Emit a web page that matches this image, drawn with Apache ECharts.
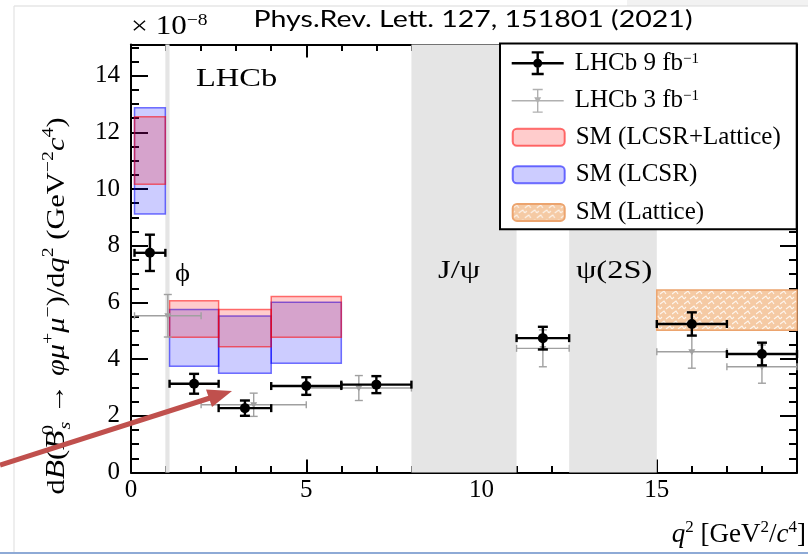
<!DOCTYPE html>
<html>
<head>
<meta charset="utf-8">
<script src="https://cdn.jsdelivr.net/npm/echarts@6/dist/echarts.min.js"></script>
<style>
  html, body { margin: 0; padding: 0; background: #fff; }
  #chart { width: 808px; height: 554px; }
</style>
</head>
<body>
<div id="chart"></div>
<script>
// Differential branching fraction of Bs0 -> phi mu+ mu-, units of 1e-8 GeV^-2 c^4

// LHCb 9 fb^-1 measurement
const run2BinLo = [0.1, 1.1, 2.5, 4.0, 6.0, 11.0, 15.0, 17.0];
const run2BinHi = [0.98, 2.5, 4.0, 6.0, 8.0, 12.5, 17.0, 19.0];
const run2Value = [7.75, 3.13, 2.27, 3.05, 3.10, 4.74, 5.24, 4.18];
const run2Error = [0.64, 0.35, 0.27, 0.31, 0.30, 0.40, 0.41, 0.40];

// LHCb 3 fb^-1 measurement
const run1BinLo = [0.1, 2.0, 5.0, 11.0, 15.0, 17.0];
const run1BinHi = [2.0, 5.0, 8.0, 12.5, 17.0, 19.0];
const run1Value = [5.53, 2.39, 2.98, 4.38, 4.26, 3.73];
const run1ErrLo = [0.75, 0.41, 0.44, 0.65, 0.58, 0.58];
const run1ErrHi = [0.75, 0.41, 0.44, 0.65, 0.58, 0.77];

// SM predictions
const smBinLo = [0.1, 1.1, 2.5, 4.0];
const smBinHi = [0.98, 2.5, 4.0, 6.0];
const smCombLo = [10.17, 4.77, 4.44, 4.77];
const smCombHi = [12.55, 6.06, 5.75, 6.21];
const smLcsrLo = [9.12, 3.75, 3.50, 3.85];
const smLcsrHi = [12.87, 5.75, 5.52, 6.01];
const smLatticeBinLo = [15.0];
const smLatticeBinHi = [19.0];
const smLatticeLo = [5.02];
const smLatticeHi = [6.44];

// Charmonium / phi veto regions
const vetoLo = [0.98, 8.0, 12.5];
const vetoHi = [1.1, 11.0, 15.0];
const vetoLabels = ['ϕ', 'J/ψ', 'ψ(2S)'];

// Axis ticks
const xTickLabels = ['0', '5', '10', '15'];
const yTickLabels = ['0', '2', '4', '6', '8', '10', '12', '14'];

const SERIF = "'Liberation Serif', 'Times New Roman', serif";

const errorSeriesRun2 = run2Value.map((v, i) => [
  (run2BinLo[i] + run2BinHi[i]) / 2, v, run2BinLo[i], run2BinHi[i], v - run2Error[i], v + run2Error[i]
]);
const errorSeriesRun1 = run1Value.map((v, i) => [
  (run1BinLo[i] + run1BinHi[i]) / 2, v, run1BinLo[i], run1BinHi[i], v - run1ErrLo[i], v + run1ErrHi[i]
]);
const boxes = (lo, hi, ylo, yhi) => lo.map((l, i) => [l, hi[i], ylo[i], yhi[i]]);

// hatched fill for the lattice band
function hatchCanvas() {
  const c = document.createElement('canvas');
  c.width = 12; c.height = 10;
  const g = c.getContext('2d');
  g.fillStyle = '#f5caa4';
  g.fillRect(0, 0, 12, 10);
  g.strokeStyle = 'rgba(255,255,255,0.8)';
  g.lineWidth = 1.2;
  g.beginPath();
  g.moveTo(0, 4); g.lineTo(4, 1); g.lineTo(6, 4);
  g.moveTo(6, 9); g.lineTo(10, 6); g.lineTo(12, 9);
  g.moveTo(0, 9); g.lineTo(2, 7);
  g.stroke();
  return c;
}
const hatchFill = { image: hatchCanvas(), repeat: 'repeat' };

function boxRenderer(fill, stroke) {
  return function (params, api) {
    const p0 = api.coord([api.value(0), api.value(3)]);
    const p1 = api.coord([api.value(1), api.value(2)]);
    return {
      type: 'rect',
      shape: { x: p0[0], y: p0[1], width: p1[0] - p0[0], height: p1[1] - p0[1] },
      style: { fill: fill, stroke: stroke, lineWidth: 1.5 }
    };
  };
}

function errorBarRenderer(cfg) {
  return function (params, api) {
    const x = api.value(0), y = api.value(1);
    const c = api.coord([x, y]);
    const pl = api.coord([api.value(2), y]);
    const ph = api.coord([api.value(3), y]);
    const pb = api.coord([x, api.value(4)]);
    const pt = api.coord([x, api.value(5)]);
    const ls = { stroke: cfg.color, lineWidth: cfg.lw, fill: null };
    const line = (x1, y1, x2, y2) => ({ type: 'line', shape: { x1, y1, x2, y2 }, style: ls });
    const children = [
      line(pl[0], c[1], ph[0], c[1]),
      line(c[0], pb[1], c[0], pt[1]),
      line(c[0] - cfg.capW, pt[1], c[0] + cfg.capW, pt[1]),
      line(c[0] - cfg.capW, pb[1], c[0] + cfg.capW, pb[1]),
      line(pl[0], c[1] - cfg.capH, pl[0], c[1] + cfg.capH),
      line(ph[0], c[1] - cfg.capH, ph[0], c[1] + cfg.capH)
    ];
    if (cfg.marker === 'circle') {
      children.push({ type: 'circle', shape: { cx: c[0], cy: c[1], r: cfg.size }, style: { fill: cfg.color } });
    } else {
      const s = cfg.size;
      children.push({ type: 'polygon', shape: { points: [[c[0] - s, c[1] - s * 0.7], [c[0] + s, c[1] - s * 0.7], [c[0], c[1] + s]] }, style: { fill: cfg.color } });
    }
    return { type: 'group', children };
  };
}

function vetoRenderer(params, api) {
  const p0 = api.coord([api.value(0), 0]);
  const p1 = api.coord([api.value(1), 0]);
  const cs = params.coordSys;
  return {
    type: 'rect',
    shape: { x: p0[0], y: cs.y, width: p1[0] - p0[0], height: cs.height },
    style: { fill: '#e5e5e5' }
  };
}

// legend icons: error-bar glyphs
const iconRun2 = 'path://M0,10.8 H52 V13.2 H0 Z M24.8,0 H27.2 V24 H24.8 Z M20,0 H32 V2.4 H20 Z M20,21.6 H32 V24 H20 Z ' +
  'M21.5,12 A4.5,4.5 0 1 1 30.5,12 A4.5,4.5 0 1 1 21.5,12 Z';
const iconRun1 = 'path://M0,11.3 H52 V12.7 H0 Z M25.3,0 H26.7 V24 H25.3 Z M21,0 H31 V1.4 H21 Z M21,22.6 H31 V24 H21 Z ' +
  'M22.5,8.5 H29.5 L26,15 Z';

const legendText = {
  'LHCb 9fb-1': '{f|LHCb 9}{t| fb}{s|−1}',
  'LHCb 3fb-1': '{f|LHCb 3}{t| fb}{s|−1}',
  'SM (LCSR+Lattice)': '{f|SM (LCSR+Lattice)}',
  'SM (LCSR)': '{f|SM (LCSR)}',
  'SM (Lattice)': '{f|SM (Lattice)}'
};
const legendRich = {
  f: { fontFamily: SERIF, fontSize: 25, color: '#000', lineHeight: 24, padding: [0, 0, 0, 6] },
  t: { fontFamily: SERIF, fontSize: 25, color: '#000', lineHeight: 24 },
  s: { fontFamily: SERIF, fontSize: 15, color: '#000', lineHeight: 12, verticalAlign: 'top' }
};

function axisCommon(showLine) {
  return {
    type: 'value',
    axisLine: { show: showLine, onZero: false, lineStyle: { color: '#000', width: 2 } },
    splitLine: { show: false },
    minorTick: { show: false },
    axisPointer: { show: false }
  };
}
function xAxisCfg(position, interval, tickLen, labels, line) {
  return Object.assign(axisCommon(line), {
    position, min: 0, max: 19, interval,
    axisTick: { show: true, inside: true, length: tickLen, lineStyle: { color: '#000', width: 2 } },
    axisLabel: labels ? {
      show: true, margin: 5, color: '#000', fontFamily: SERIF, fontSize: 25,
      showMaxLabel: false,
      formatter: v => (xTickLabels.indexOf(String(v)) >= 0 ? String(v) : '')
    } : { show: false }
  });
}
function yAxisCfg(position, interval, tickLen, labels, line) {
  return Object.assign(axisCommon(line), {
    position, min: 0, max: 15.1, interval,
    axisTick: { show: true, inside: true, length: tickLen, lineStyle: { color: '#000', width: 2 } },
    axisLabel: labels ? {
      show: true, margin: 11, color: '#000', fontFamily: SERIF, fontSize: 25,
      showMaxLabel: false,
      formatter: v => (yTickLabels.indexOf(String(v)) >= 0 ? String(v) : '')
    } : { show: false }
  });
}

const supStyle = (size) => ({ fontFamily: SERIF, fontSize: size, color: '#000', lineHeight: size, verticalAlign: 'top' });
const subStyle = (size) => ({ fontFamily: SERIF, fontSize: size, color: '#000', lineHeight: size, verticalAlign: 'bottom' });

const chart = echarts.init(document.getElementById('chart'), null, { renderer: 'canvas' });

chart.setOption({
  animation: false,
  backgroundColor: '#fff',
  grid: { left: 131, right: 11, top: 44.5, bottom: 81.5, containLabel: false, outerBoundsMode: 'none' },
  xAxis: [
    xAxisCfg('bottom', 5, 13, true, true),
    xAxisCfg('bottom', 1, 6.5, false, false),
    xAxisCfg('top', 5, 13, false, true),
    xAxisCfg('top', 1, 6.5, false, false)
  ],
  yAxis: [
    yAxisCfg('left', 2, 17, true, true),
    yAxisCfg('left', 0.5, 8, false, false),
    yAxisCfg('right', 2, 17, false, true),
    yAxisCfg('right', 0.5, 8, false, false)
  ],
  legend: [
    {
      data: [{ name: 'LHCb 9fb-1', icon: iconRun2 }, { name: 'LHCb 3fb-1', icon: iconRun1 }],
      orient: 'vertical', left: 506.7, top: 45.7,
      itemWidth: 52, itemHeight: 24, itemGap: 12.6,
      selectedMode: false, z: 20,
      formatter: n => legendText[n],
      textStyle: { rich: legendRich }
    },
    {
      data: ['SM (LCSR+Lattice)', 'SM (LCSR)', 'SM (Lattice)'],
      orient: 'vertical', left: 506.7, top: 119.7,
      itemWidth: 52, itemHeight: 17, itemGap: 12.6,
      selectedMode: false, z: 20,
      formatter: n => legendText[n],
      textStyle: { rich: legendRich }
    }
  ],
  series: [
    {
      name: 'veto', type: 'custom', z: 1, silent: true,
      renderItem: vetoRenderer,
      data: vetoLo.map((l, i) => [l, vetoHi[i]])
    },
    {
      name: 'SM (LCSR)', type: 'custom', z: 3,
      itemStyle: { color: 'rgba(0,0,255,0.2)', borderColor: 'rgba(0,0,255,0.55)', borderWidth: 1.5 },
      renderItem: boxRenderer('rgba(0,0,255,0.2)', 'rgba(0,0,255,0.55)'),
      data: boxes(smBinLo, smBinHi, smLcsrLo, smLcsrHi)
    },
    {
      name: 'SM (LCSR+Lattice)', type: 'custom', z: 4,
      itemStyle: { color: 'rgba(255,0,0,0.2)', borderColor: 'rgba(255,0,0,0.55)', borderWidth: 1.5 },
      renderItem: boxRenderer('rgba(255,0,0,0.2)', 'rgba(255,0,0,0.55)'),
      data: boxes(smBinLo, smBinHi, smCombLo, smCombHi)
    },
    {
      name: 'SM (Lattice)', type: 'custom', z: 4,
      itemStyle: { color: hatchFill, borderColor: '#eca46e', borderWidth: 1.5 },
      renderItem: boxRenderer(hatchFill, '#eca46e'),
      data: boxes(smLatticeBinLo, smLatticeBinHi, smLatticeLo, smLatticeHi)
    },
    {
      name: 'LHCb 3fb-1', type: 'custom', z: 5,
      itemStyle: { color: '#b0b0b0', borderWidth: 0 },
      renderItem: errorBarRenderer({ color: '#a0a0a0', lw: 1.4, capW: 4, capH: 3.5, marker: 'triangle', size: 3.5 }),
      data: errorSeriesRun1
    },
    {
      name: 'LHCb 9fb-1', type: 'custom', z: 6,
      itemStyle: { color: '#000', borderWidth: 0 },
      renderItem: errorBarRenderer({ color: '#000', lw: 2.4, capW: 5, capH: 4, marker: 'circle', size: 5 }),
      data: errorSeriesRun2
    }
  ],
  graphic: [
    // page frame
    { type: 'rect', z: 0, silent: true, shape: { x: 627, y: 0, width: 181, height: 6 }, style: { fill: '#f2f2f2' } },
    { type: 'line', z: 0, silent: true, shape: { x1: 14, y1: 6, x2: 808, y2: 6 }, style: { stroke: '#d9d9d9', lineWidth: 1.2 } },
    { type: 'line', z: 0, silent: true, shape: { x1: 14, y1: 6, x2: 14, y2: 552 }, style: { stroke: '#e3e3e3', lineWidth: 1.2 } },
    { type: 'line', z: 0, silent: true, shape: { x1: 0, y1: 553, x2: 808, y2: 553 }, style: { stroke: '#8eaad6', lineWidth: 2 } },
    // legend box
    { type: 'rect', z: 10, silent: true, shape: { x: 500, y: 43.5, width: 296.7, height: 185.8 }, style: { fill: '#fff', stroke: '#000', lineWidth: 2 } },
    // citation
    { type: 'text', z: 30, x: 473, y: 20, scaleX: 1.24, style: { text: 'Phys.Rev. Lett. 127, 151801 (2021)', font: "23px Lato, 'Liberation Sans', sans-serif", fill: '#000', align: 'center', verticalAlign: 'middle' } },
    // exponent
    { type: 'text', z: 30, x: 131, y: 27, scaleX: 1.15, style: {
      text: '{m|×}{n| 10}{s|−8}', align: 'left', verticalAlign: 'middle',
      rich: { m: { fontFamily: SERIF, fontSize: 26, lineHeight: 30, fill: '#000' }, n: { fontFamily: SERIF, fontSize: 27, lineHeight: 30, fill: '#000' }, s: supStyle(17) } } },
    // experiment label
    { type: 'text', z: 30, x: 196, y: 79, scaleX: 1.3, style: { text: 'LHCb', font: '25px ' + SERIF, fill: '#000', align: 'left', verticalAlign: 'middle' } },
    // veto labels
    { type: 'text', z: 30, x: 175, y: 274, scaleX: 1.15, style: { text: vetoLabels[0], font: '25px ' + SERIF, fill: '#000', align: 'left', verticalAlign: 'middle' } },
    { type: 'text', z: 30, x: 438, y: 271, scaleX: 1.3, style: { text: vetoLabels[1], font: '25px ' + SERIF, fill: '#000', align: 'left', verticalAlign: 'middle' } },
    { type: 'text', z: 30, x: 576, y: 271, scaleX: 1.3, style: { text: vetoLabels[2], font: '25px ' + SERIF, fill: '#000', align: 'left', verticalAlign: 'middle' } },
    // y axis title
    { type: 'text', z: 30, x: 57, y: 306, rotation: Math.PI / 2, scaleX: 1.17, style: {
      text: '{t|d}{I|B}{t|(}{I|B}{z|0}{b|s}{t| → }{i|φμ}{p|+}{i|μ}{p|−}{t|)/d}{i|q}{p|2}{t| (GeV}{p|−2}{i|c}{p|4}{t|)}',
      align: 'center', verticalAlign: 'middle',
      rich: {
        t: { fontFamily: SERIF, fontSize: 26, lineHeight: 34, fill: '#000' },
        i: { fontFamily: SERIF, fontStyle: 'italic', fontSize: 26, lineHeight: 34, fill: '#000' },
        I: { fontFamily: SERIF, fontStyle: 'italic', fontSize: 27, lineHeight: 34, fill: '#000' },
        p: supStyle(17),
        z: Object.assign(supStyle(17), { width: 1 }),
        b: Object.assign(subStyle(17), { fontStyle: 'italic' })
      } } },
    // x axis title
    { type: 'text', z: 30, x: 806, y: 535, style: {
      text: '{i|q}{p|2}{t| [GeV}{p|2}{t|/}{i|c}{p|4}{t|]}',
      align: 'right', verticalAlign: 'middle',
      rich: {
        t: { fontFamily: SERIF, fontSize: 27, lineHeight: 32, fill: '#000' },
        i: { fontFamily: SERIF, fontStyle: 'italic', fontSize: 27, lineHeight: 32, fill: '#000' },
        p: supStyle(17)
      } } },
    // callout arrow
    { type: 'line', z: 100, silent: true, shape: { x1: 0, y1: 465, x2: 210, y2: 398 }, style: { stroke: '#c0504d', lineWidth: 5 } },
    { type: 'polygon', z: 100, silent: true, shape: { points: [[232, 391], [212, 407], [206, 389.5]] }, style: { fill: '#c0504d' } }
  ]
});
</script>
</body>
</html>
